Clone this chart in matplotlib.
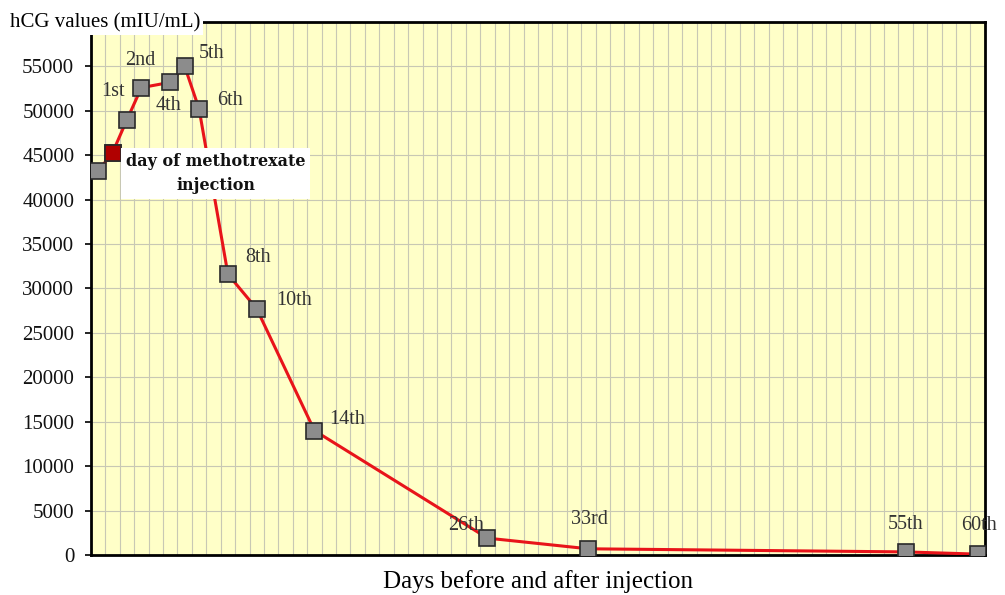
import matplotlib.pyplot as plt
import numpy as np

plt.rcParams['font.family'] = ['Liberation Serif', 'DejaVu Serif']

# days relative to injection (-1 = day before, 0 = injection day)
days = [-1, 0, 1, 2, 4, 5, 6, 8, 10, 14, 26, 33, 55, 60]
hcg = [43200, 45300, 49000, 52600, 53200, 55000, 50200, 31600, 27700, 14000, 1900, 700, 350, 100]
labels = ['', '', '1st', '2nd', '4th', '5th', '6th', '8th', '10th', '14th', '26th', '33rd', '55th', '60th']
# label offsets in pixels (dx, dy)
offsets = [(0, 0), (0, 0), (-14, 28), (-1, 27), (-2, -23), (27, 13), (31, 8), (30, 17),
           (37, 8), (33, 11), (-21, 13), (1, 29), (0, 27), (1, 29)]

fig = plt.figure(figsize=(10.05, 5.95), dpi=100)
ax = fig.add_axes([0.0905, 0.0672, 0.8895, 0.896])
ax.set_facecolor('#ffffc8')

ax.plot(days, hcg, color='#e8141a', lw=2.2, zorder=3)
ax.plot(days, hcg, ls='none', marker='s', ms=12, mfc='#8c8c8c', mec='#2a2a2a', mew=1.2, zorder=4)
ax.plot(days[1], hcg[1], ls='none', marker='s', ms=12, mfc='#b00000', mec='#2a2a2a', mew=1.2, zorder=5)

for d, v, lab, (dx, dy) in zip(days, hcg, labels, offsets):
    if lab:
        ax.annotate(lab, (d, v), xytext=(dx, dy), textcoords='offset pixels',
                    ha='center', va='center', fontsize=14.5, color='#333333', zorder=6)

ax.annotate('day of methotrexate\ninjection', (days[1], hcg[1]), xytext=(103, -21),
            textcoords='offset pixels', ha='center', va='center', fontsize=11.5,
            family='DejaVu Serif', fontweight='bold', color='#111111', linespacing=1.6,
            zorder=6, bbox=dict(boxstyle='square,pad=0.3', fc='white', ec='none'))

ax.set_xlim(-1.5, 60.5)
ax.set_ylim(0, 60000)
ax.set_xticks(np.arange(-1.5, 60.6, 1))
ax.set_xticklabels([])
ax.tick_params(axis='x', length=0)
ax.set_yticks(np.arange(0, 55001, 5000))
ax.tick_params(axis='y', labelsize=15, length=4, width=1.2, pad=8, labelcolor='#111111')
ax.grid(True, color='#c8c8b4', lw=0.8)
ax.set_axisbelow(True)
for s in ax.spines.values():
    s.set_color('black')
    s.set_linewidth(2)

ax.set_xlabel('Days before and after injection', fontsize=18, labelpad=7)
fig.text(0.01, 0.962, 'hCG values (mIU/mL)', fontsize=15, ha='left', va='center',
         bbox=dict(fc='white', ec='none', pad=2))

fig.savefig('out.png', dpi=100)
